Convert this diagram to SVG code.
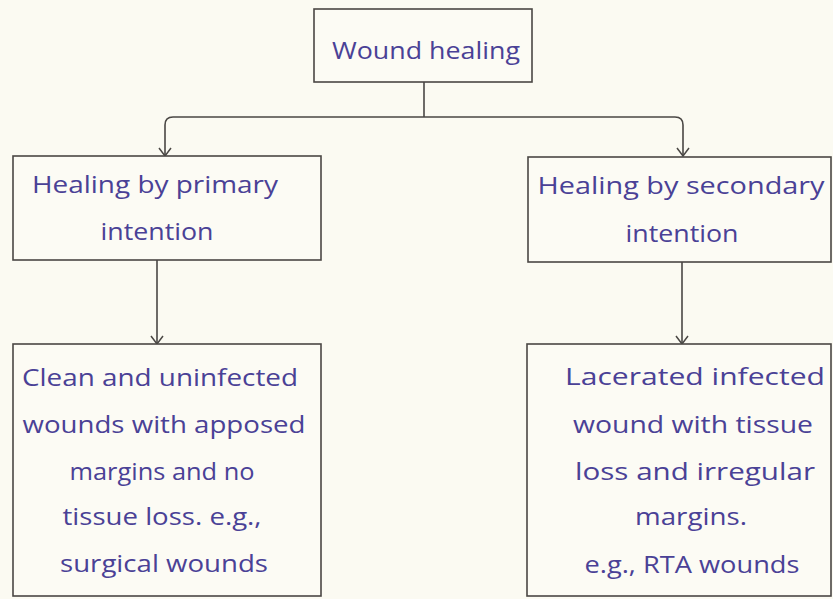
<svg xmlns="http://www.w3.org/2000/svg" width="833" height="599" viewBox="0 0 833 599">
  <style>
    .box { fill: #fcfbf4; stroke: #4a4744; stroke-width: 1.6; }
    .lbl { font-family: "Open Sans", "Noto Sans", sans-serif; font-size: 24px; fill: #4a4196; text-anchor: middle; }
    .wire { fill: none; stroke: #4a4744; stroke-width: 1.6; }
  </style>
  <defs>
    <!-- open V arrowhead, tip on the path end -->
    <marker id="arrow" viewBox="0 0 10 14" refX="9" refY="7" markerWidth="10" markerHeight="14" markerUnits="userSpaceOnUse" orient="auto-start-reverse">
      <path d="M1,1 L9,7 L1,13" fill="none" stroke="#4a4744" stroke-width="1.5"/>
    </marker>
  </defs>
  <rect x="0" y="0" width="833" height="599" fill="#fbfaf2"/>

  <g id="connectors">
    <path class="wire" d="M424,82 V117"/>
    <path class="wire" d="M683,156 V125 Q683,117 675,117 H173 Q165,117 165,125 V156" marker-start="url(#arrow)" marker-end="url(#arrow)"/>
    <path class="wire" d="M157,260 V344" marker-end="url(#arrow)"/>
    <path class="wire" d="M682,262 V344" marker-end="url(#arrow)"/>
  </g>

  <g id="wound-healing">
    <rect class="box" x="314" y="9" width="218" height="73"/>
    <text class="lbl" x="426" y="59" textLength="188" lengthAdjust="spacingAndGlyphs">Wound healing</text>
  </g>

  <g id="primary-intention">
    <rect class="box" x="13" y="156" width="308" height="104"/>
    <text class="lbl" x="155" y="193" textLength="246" lengthAdjust="spacingAndGlyphs">Healing by primary</text>
    <text class="lbl" x="157" y="240" textLength="113" lengthAdjust="spacingAndGlyphs">intention</text>
  </g>

  <g id="secondary-intention">
    <rect class="box" x="528" y="157" width="303" height="105"/>
    <text class="lbl" x="681" y="194" textLength="287" lengthAdjust="spacingAndGlyphs">Healing by secondary</text>
    <text class="lbl" x="682" y="242" textLength="113" lengthAdjust="spacingAndGlyphs">intention</text>
  </g>

  <g id="primary-example">
    <rect class="box" x="13" y="344" width="308" height="252"/>
    <text class="lbl" x="160" y="386" textLength="276" lengthAdjust="spacingAndGlyphs">Clean and uninfected</text>
    <text class="lbl" x="164" y="433" textLength="283" lengthAdjust="spacingAndGlyphs">wounds with apposed</text>
    <text class="lbl" x="162" y="480" textLength="185" lengthAdjust="spacingAndGlyphs">margins and no</text>
    <text class="lbl" x="162" y="525" textLength="199" lengthAdjust="spacingAndGlyphs">tissue loss. e.g.,</text>
    <text class="lbl" x="164" y="572" textLength="208" lengthAdjust="spacingAndGlyphs">surgical wounds</text>
  </g>

  <g id="secondary-example">
    <rect class="box" x="527" y="344" width="304" height="252"/>
    <text class="lbl" x="695" y="385" textLength="260" lengthAdjust="spacingAndGlyphs">Lacerated infected</text>
    <text class="lbl" x="693" y="433" textLength="240" lengthAdjust="spacingAndGlyphs">wound with tissue</text>
    <text class="lbl" x="695" y="480" textLength="240" lengthAdjust="spacingAndGlyphs">loss and irregular</text>
    <text class="lbl" x="691" y="525" textLength="112" lengthAdjust="spacingAndGlyphs">margins.</text>
    <text class="lbl" x="692" y="573" textLength="215" lengthAdjust="spacingAndGlyphs">e.g., RTA wounds</text>
  </g>
</svg>
